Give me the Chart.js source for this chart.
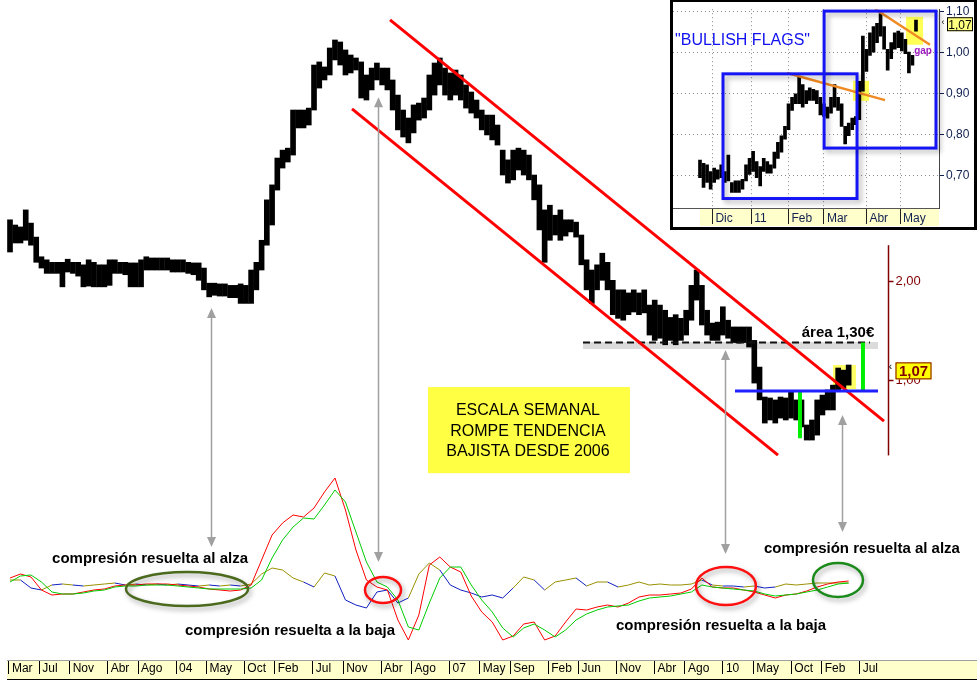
<!DOCTYPE html>
<html><head><meta charset="utf-8">
<script src="https://cdn.jsdelivr.net/npm/chart.js@4.4.0/dist/chart.umd.min.js"></script>
<style>
html,body{margin:0;padding:0;background:#fff;}
#wrap{position:relative;width:977px;height:680px;overflow:hidden;background:#fff;}
#main{position:absolute;left:0;top:0;}
#inset{position:absolute;left:670px;top:0;background:#fff;}
</style></head><body>
<div id="wrap"><canvas id="main" width="977" height="680"></canvas><canvas id="inset" width="307" height="230"></canvas></div>
<script>
// ---------------- DATA ----------------
// weekly price bars, sampled every 3 weeks (years as x)
const priceStart = 2002.179;
const priceStep = 0.0575;
const priceHigh = [3.07,2.96,2.92,3.29,3.00,2.72,2.37,2.32,2.28,2.28,
2.28,2.33,2.28,2.28,2.24,2.32,2.28,2.24,2.24,2.32,
2.32,2.28,2.28,2.27,2.27,2.32,2.37,2.35,2.35,2.35,
2.35,2.32,2.32,2.32,2.28,2.27,2.27,2.19,1.97,1.97,
1.96,1.96,1.94,1.94,1.96,1.94,2.16,2.28,2.66,3.53,
3.92,4.73,5.00,5.07,6.62,6.62,6.62,6.71,9.07,9.27,
8.95,10.22,10.81,10.66,10.08,9.73,9.53,9.27,8.46,8.88,
9.20,8.88,8.88,8.17,7.35,6.62,6.26,6.86,6.95,7.20,
8.46,9.20,9.53,8.88,8.58,8.76,8.46,7.89,7.51,7.10,
6.62,6.39,6.39,5.96,5.00,4.67,5.00,5.07,5.00,4.83,
4.20,3.92,3.29,3.40,3.17,3.29,3.07,3.07,3.02,2.76,
2.32,2.16,2.24,2.43,2.28,2.01,1.88,1.88,1.84,1.88,
1.84,1.88,1.69,1.75,1.69,1.63,1.55,1.58,1.54,1.63,
1.94,2.16,1.94,1.63,1.49,1.50,1.67,1.52,1.45,1.45,
1.45,1.45,1.32,1.095,0.888,0.882,0.870,0.888,0.882,0.919,
0.870,0.870,0.730,0.756,0.870,0.900,0.933,0.965,1.088,1.072,
1.111];
const priceLow = [2.45,2.61,2.61,2.66,2.57,2.28,2.19,2.11,2.11,2.11,
1.92,2.13,2.11,2.07,1.92,1.93,1.92,1.92,1.92,1.94,
2.11,2.11,2.09,1.92,1.92,1.92,2.16,2.16,2.16,2.16,
2.16,2.13,2.13,2.13,2.11,2.09,2.01,1.88,1.79,1.81,
1.80,1.80,1.78,1.78,1.71,1.71,1.71,1.88,2.16,2.57,
2.96,3.78,4.41,4.60,4.83,5.84,5.84,5.96,6.62,7.72,
8.17,8.46,9.40,9.07,8.46,8.58,8.76,7.20,7.10,7.62,
8.17,7.89,7.62,6.62,5.76,5.48,5.26,5.64,6.17,6.26,
6.62,7.35,7.89,7.35,7.10,7.35,7.10,6.71,6.48,6.26,
5.76,5.56,5.37,5.18,4.20,3.97,4.06,4.35,4.20,4.06,
3.53,2.86,2.28,2.66,2.76,2.66,2.74,2.82,2.72,2.24,
1.88,1.71,1.88,2.01,1.88,1.58,1.54,1.52,1.58,1.61,
1.58,1.60,1.37,1.32,1.34,1.28,1.32,1.28,1.32,1.37,
1.52,1.75,1.47,1.37,1.32,1.32,1.37,1.34,1.30,1.295,
1.30,1.26,0.979,0.870,0.740,0.756,0.740,0.766,0.756,0.766,
0.756,0.720,0.657,0.657,0.680,0.783,0.811,0.811,0.933,0.946,
0.965];

// oscillator panel, sampled every 6 weeks
const indStart = 2002.179;
const indStep = 0.115;
const fastLine = [0.7,1.1,0.8,-0.5,-1.0,-0.9,-0.9,-0.7,-0.5,-0.4,
-0.1,0,0,0.1,0.1,0.1,0,-0.1,-0.2,-0.4,
-0.5,-0.6,-0.5,0,2.5,5.0,6.2,7.0,6.8,7.7,
9.3,10.7,7.5,3.5,0.5,-0.2,-0.5,-3.5,-5.5,-3.0,
2.0,2.8,1.8,1.3,-1.1,-2.7,-3.7,-5.5,-5.1,-3.9,
-3.7,-5.5,-5.1,-3.7,-2.4,-2.5,-2.2,-2.0,-2.2,-1.8,
-1.2,-1.0,-1.0,-0.9,-0.8,-0.4,0.7,-0.2,-0.3,-0.3,
-0.5,-0.7,-1.0,-1.3,-1.0,-0.9,-0.6,-0.2,0.1,0.3,0.4];
const slowLine = [0.3,0.9,1.0,0.3,-0.7,-0.9,-0.9,-0.8,-0.6,-0.5,
-0.2,-0.1,-0.1,0,0,0,-0.1,-0.2,-0.3,-0.4,
-0.4,-0.4,-0.4,-0.3,0.5,2.7,4.5,5.8,6.7,6.6,
8.0,9.5,8.3,5.3,2.3,0.3,-0.2,-1.5,-4.2,-4.5,
-1.8,0.7,1.8,1.8,0,-1.5,-2.7,-4.3,-5.2,-4.3,
-3.9,-4.5,-5.2,-4.5,-3.5,-2.9,-2.5,-2.2,-2.1,-2.0,
-1.6,-1.3,-1.2,-1.1,-0.9,-0.7,0,-0.2,-0.3,-0.4,
-0.5,-0.6,-0.9,-1.1,-1.0,-0.9,-0.7,-0.5,-0.2,0.1,0.2];
const trendLine = [0.5,0.5,-0.3,-0.5,0,0.1,0,-0.1,0,0.1,
0.2,0,0.1,0,0.1,0,0.1,0,-0.1,0,
-0.1,0,-0.1,0.1,1.1,1.7,1.5,0.7,0.3,-0.2,
1.2,0.9,-1.5,-2.0,-2.3,-0.7,-0.5,-1.8,-1.3,1.1,
2.2,1.5,0,-0.5,-0.8,-1.2,-1.0,-1.3,-0.3,0.8,
0.5,-0.5,0.3,0.5,0.7,-0.1,0.3,0.3,-0.2,0,
0.3,0,0.1,0,0,0.1,0.5,0,-0.1,-0.1,
-0.2,-0.1,-0.3,-0.2,0.1,0,0.1,0.2,0.2,0.2,0.2];
const trendState = [0,0,1,1,0,1,0,1,0,0,
0,1,0,1,0,1,0,1,1,0,
1,0,1,0,0,0,0,0,0,1,
0,0,1,1,1,1,1,1,1,0,
0,0,1,1,1,1,1,1,1,0,
0,1,0,0,0,1,0,0,1,0,
0,0,0,0,0,0,0,1,0,1,
1,0,1,1,0,0,0,0,0,0,0];

// main x axis ticks
const xTickMonths = ['2002-03','2002-07','2002-11','2003-04','2003-08','2004-01','2004-05','2004-10','2005-02','2005-07','2005-11','2006-04','2006-08','2007-01','2007-05','2007-09','2008-02','2008-06','2008-11','2009-04','2009-08','2010-01','2010-05','2010-10','2011-02','2011-07'];
const xTickLabels = ['Mar','Jul','Nov','Abr','Ago','04','May','Oct','Feb','Jul','Nov','Abr','Ago','07','May','Sep','Feb','Jun','Nov','Abr','Ago','10','May','Oct','Feb','Jul'];
const priceAxisTicks = [2.00, 1.00];
const lastPrice = 1.07;

// drawn trend annotations (data units)
const channelUpper = [[2006.348, 12.44], [2011.767, 0.750]];
const channelLower = [[2005.931, 6.67], [2010.604, 0.591]];
const resistance130 = [[2008.465, 1.30], [2011.613, 1.30]];
const neckline = [[2010.132, 0.926], [2011.701, 0.926]];
const targetLeg1 = [[2010.845, 0.926], [2010.845, 0.665]];
const targetLeg2 = [[2011.536, 1.30], [2011.536, 0.933]];

// inset: daily bars, every 2nd session from 22-nov-2010
const insetStep = 2;
const insetHigh = [0.739,0.731,0.727,0.711,0.719,0.715,0.727,0.711,0.751,0.684,
0.688,0.688,0.692,0.727,0.743,0.760,0.735,0.723,0.743,0.735,
0.727,0.758,0.782,0.798,0.821,0.876,0.892,0.900,0.943,0.923,
0.908,0.915,0.911,0.908,0.892,0.876,0.868,0.892,0.923,0.892,
0.876,0.821,0.829,0.841,0.845,0.931,1.041,1.009,1.049,1.064,
1.072,1.096,1.064,1.009,1.025,1.049,1.053,1.049,1.033,1.002,
0.994,1.080];
const insetLow = [0.696,0.672,0.684,0.668,0.684,0.692,0.696,0.684,0.688,0.660,
0.660,0.660,0.668,0.688,0.704,0.711,0.696,0.676,0.711,0.707,
0.707,0.719,0.743,0.758,0.790,0.813,0.860,0.876,0.876,0.868,
0.876,0.884,0.884,0.876,0.849,0.845,0.841,0.853,0.868,0.860,
0.821,0.778,0.798,0.813,0.825,0.837,0.907,0.955,0.994,1.002,
1.025,1.041,1.009,0.958,0.986,1.009,1.013,1.005,0.998,0.951,
0.970,1.053];
const insetTickDays = [7, 29, 50, 70, 94, 113];
const insetTickLabels = ['Dic','11','Feb','Mar','Abr','May'];
const insetPriceTicks = [0.70, 0.80, 0.90, 1.00, 1.10];
const flagLine1 = [[49.2, 0.951], [104.5, 0.885]];
const flagLine2 = [[98.9, 1.107], [129.9, 1.020]];

// ---------------- CHART ----------------
const FONT = '"Liberation Sans", Arial, sans-serif';
Chart.defaults.font.family = FONT;
const fmt = v => v.toFixed(2).replace('.', ',');
const pts = arr => arr.map(p => ({x: p[0], y: p[1]}));

const notes = {
  box: {x0: 2006.764, x1: 2008.980, top: 0.952, bottom: 0.521, cx: 2007.861,
        lines: ['ESCALA SEMANAL', 'ROMPE TENDENCIA', 'BAJISTA DESDE 2006'], lineP: [0.805, 0.697, 0.608]},
  highlight: {x0: 2011.207, x1: 2011.459, top: 1.111, bottom: 0.939},
  area: {text: 'área 1,30€', x: 2011.262, p: 1.390},
  arrows: [
    {x: 2004.384, top: 1.655, bottom: 3.8},
    {x: 2006.216, top: 7.24, bottom: 2.3},
    {x: 2010.022, top: 1.234, bottom: 3.1},
    {x: 2011.306, top: 0.783, bottom: 5.3}
  ],
  ellipses: [
    {x: 2004.121, v: -0.4, rx: 61, ry: 17, color: '#4B6A1E'},
    {x: 2006.271, v: -0.5, rx: 18, ry: 13, color: '#FF1010'},
    {x: 2010.033, v: -0.1, rx: 30, ry: 19, color: '#FF1010'},
    {x: 2011.262, v: 0.5, rx: 25, ry: 17, color: '#1A8A1A'}
  ],
  texts: [
    {text: 'compresión resuelta al alza', x: 2003.715, v: 2.6},
    {text: 'compresión resuelta a la baja', x: 2005.251, v: -4.6},
    {text: 'compresión resuelta a la baja', x: 2009.979, v: -4.1},
    {text: 'compresión resuelta al alza', x: 2011.525, v: 3.6}
  ],
  axis: {x: 2011.810, top: 2.57, bottom: 0.59}
};

const mainDecor = {
  id: 'mainDecor',
  beforeDraw(chart) {
    const {ctx} = chart; const xs = chart.scales.x;
    ctx.save();
    ctx.fillStyle = '#FFFFCC';
    ctx.fillRect(xs.left, xs.top, xs.right - xs.left, xs.bottom - xs.top);
    ctx.strokeStyle = '#000'; ctx.lineWidth = 1;
    ctx.beginPath(); ctx.moveTo(xs.left, xs.bottom - 0.5); ctx.lineTo(xs.right, xs.bottom - 0.5); ctx.stroke();
    ctx.restore();
  },
  beforeDatasetsDraw(chart) {
    const {ctx, scales} = chart;
    const X = v => scales.x.getPixelForValue(v), P = v => scales.y.getPixelForValue(v);
    ctx.save();
    const h = notes.highlight;
    ctx.fillStyle = '#FFFF66';
    ctx.fillRect(X(h.x0), P(h.top), X(h.x1) - X(h.x0), P(h.bottom) - P(h.top));
    ctx.strokeStyle = 'rgba(190,190,190,0.55)'; ctx.lineWidth = 7;
    ctx.beginPath();
    ctx.moveTo(X(resistance130[0][0]), P(1.30) + 3); ctx.lineTo(X(resistance130[1][0]) + 8, P(1.30) + 3); ctx.stroke();
    ctx.restore();
  },
  afterDatasetsDraw(chart) {
    const {ctx, scales} = chart;
    const X = v => scales.x.getPixelForValue(v), P = v => scales.y.getPixelForValue(v), I = v => scales.yi.getPixelForValue(v);
    ctx.save();
    const b = notes.box;
    ctx.fillStyle = '#FFFF44';
    ctx.fillRect(X(b.x0), P(b.top), X(b.x1) - X(b.x0), P(b.bottom) - P(b.top));
    ctx.fillStyle = '#000'; ctx.font = '16px ' + FONT; ctx.textAlign = 'center'; ctx.textBaseline = 'middle';
    b.lines.forEach((t, k) => ctx.fillText(t, X(b.cx), P(b.lineP[k])));
    ctx.strokeStyle = '#A0A0A0'; ctx.fillStyle = '#A0A0A0'; ctx.lineWidth = 1.5;
    notes.arrows.forEach(a => {
      const x = Math.round(X(a.x)) + 0.5, y1 = P(a.top), y2 = I(a.bottom);
      ctx.beginPath(); ctx.moveTo(x, y1 + 8); ctx.lineTo(x, y2 - 8); ctx.stroke();
      ctx.beginPath(); ctx.moveTo(x, y1); ctx.lineTo(x - 4.5, y1 + 10); ctx.lineTo(x + 4.5, y1 + 10); ctx.closePath(); ctx.fill();
      ctx.beginPath(); ctx.moveTo(x, y2); ctx.lineTo(x - 4.5, y2 - 10); ctx.lineTo(x + 4.5, y2 - 10); ctx.closePath(); ctx.fill();
    });
    notes.ellipses.forEach(e => {
      ctx.save();
      ctx.shadowColor = 'rgba(0,0,0,0.35)'; ctx.shadowBlur = 5; ctx.shadowOffsetX = 2; ctx.shadowOffsetY = 3;
      ctx.strokeStyle = e.color; ctx.lineWidth = 2.5;
      ctx.beginPath(); ctx.ellipse(X(e.x), I(e.v), e.rx, e.ry, 0, 0, Math.PI * 2); ctx.stroke();
      ctx.restore();
    });
    ctx.fillStyle = '#000'; ctx.font = 'bold 15px ' + FONT; ctx.textAlign = 'center'; ctx.textBaseline = 'middle';
    notes.texts.forEach(t => ctx.fillText(t.text, X(t.x), I(t.v)));
    ctx.fillText(notes.area.text, X(notes.area.x), P(notes.area.p));
    const ax = Math.round(X(notes.axis.x)) + 0.5;
    ctx.strokeStyle = '#800000'; ctx.lineWidth = 1.5;
    ctx.beginPath(); ctx.moveTo(ax, P(notes.axis.top)); ctx.lineTo(ax, P(notes.axis.bottom)); ctx.stroke();
    ctx.fillStyle = '#800000'; ctx.font = '13px ' + FONT; ctx.textAlign = 'left';
    priceAxisTicks.forEach(v => {
      const y = Math.round(P(v)) + 0.5;
      ctx.beginPath(); ctx.moveTo(ax, y); ctx.lineTo(ax + 5, y); ctx.stroke();
      ctx.fillText(fmt(v), ax + 7, y);
    });
    const ly = P(lastPrice);
    ctx.fillStyle = '#FFFF00'; ctx.fillRect(ax + 7, ly - 8, 36, 17);
    ctx.strokeStyle = '#800000'; ctx.lineWidth = 1; ctx.strokeRect(ax + 7.5, ly - 7.5, 35, 16);
    ctx.fillStyle = '#800000'; ctx.font = 'bold 15px ' + FONT; ctx.textAlign = 'center';
    ctx.fillText(fmt(lastPrice), ax + 25, ly + 1);
    ctx.font = '10px ' + FONT; ctx.fillStyle = '#000'; ctx.fillText('‹', ax + 2, ly - 3);
    ctx.restore();
  }
};

const lineDs = (arr, color, width, extra) => Object.assign({
  type: 'line', data: pts(arr), borderColor: color, borderWidth: width, pointRadius: 0,
  yAxisID: 'y', order: 1, tension: 0
}, extra || {});

new Chart(document.getElementById('main'), {
  type: 'bar',
  data: {
    datasets: [
      {type: 'bar', data: priceHigh.map((h, i) => ({x: priceStart + i * priceStep, y: [priceLow[i], h]})),
       backgroundColor: '#000', barThickness: 5, grouped: false, yAxisID: 'y', order: 10},
      {type: 'line', data: trendLine.map((v, i) => ({x: indStart + i * indStep, y: v})), yAxisID: 'yi',
       borderColor: '#9A9000', borderWidth: 1, pointRadius: 0, order: 5,
       segment: {borderColor: c => trendState[c.p1DataIndex] ? '#1020C0' : '#9A9000'}},
      {type: 'line', data: fastLine.map((v, i) => ({x: indStart + i * indStep, y: v})), yAxisID: 'yi',
       borderColor: '#FF0000', borderWidth: 1, pointRadius: 0, order: 4},
      {type: 'line', data: slowLine.map((v, i) => ({x: indStart + i * indStep, y: v})), yAxisID: 'yi',
       borderColor: '#00CC00', borderWidth: 1, pointRadius: 0, order: 3},
      lineDs(resistance130, '#111', 2, {borderDash: [7, 4], order: 2}),
      lineDs(neckline, '#2020FF', 3),
      lineDs(targetLeg1, '#00EE00', 4),
      lineDs(targetLeg2, '#00EE00', 4),
      lineDs(channelUpper, '#FF0000', 3),
      lineDs(channelLower, '#FF0000', 3)
    ]
  },
  options: {
    responsive: false, animation: false, events: [],
    layout: {padding: {left: 7, right: 0, top: 0, bottom: 0}},
    plugins: {legend: {display: false}, tooltip: {enabled: false}},
    scales: {
      x: {type: 'linear', min: 2002.146, max: 2012.787, offset: false, position: 'bottom',
        afterBuildTicks: s => { s.ticks = xTickMonths.map(m => ({value: +m.slice(0, 4) + (+m.slice(5) - 1) / 12})); },
        afterFit: s => { s.height = 20; },
        grid: {drawOnChartArea: false, offset: false, drawTicks: true, tickLength: 14, tickColor: '#000', tickWidth: 1},
        border: {display: true, color: '#A0A0A0', width: 1},
        ticks: {align: 'start', labelOffset: 3, padding: -13, autoSkip: false, maxRotation: 0, minRotation: 0,
          color: '#000', font: {size: 12, family: FONT}, callback: (v, i) => xTickLabels[i]}
      },
      y: {type: 'logarithmic', display: false, min: 0.1409, max: 14.30, bounds: 'data'},
      yi: {type: 'linear', display: false, min: -7.5, max: 58.5, bounds: 'data'}
    }
  },
  plugins: [mainDecor]
});

// ---------------- INSET ----------------
const insetNotes = {
  boxes: [{x0: 13.0, x1: 88.7, top: 0.949, bottom: 0.645}, {x0: 70.1, x1: 133.3, top: 1.102, bottom: 0.768}],
  highlights: [{x0: 86.4, x1: 95.5, top: 0.932, bottom: 0.883}, {x0: 116.4, x1: 126.0, top: 1.088, bottom: 1.020}],
  title: {text: '"BULLISH FLAGS"', x: -14.1, p: 1.031},
  gap: {text: 'gap', x: 126.0, p: 1.005}
};
const insetDecor = {
  id: 'insetDecor',
  beforeDraw(chart) {
    const {ctx, scales} = chart; const xs = scales.x;
    ctx.save();
    ctx.fillStyle = '#FFFFCC';
    const x0 = xs.getPixelForValue(0);
    ctx.fillRect(x0, xs.top, chart.chartArea.right - x0, 18);
    ctx.restore();
  },
  beforeDatasetsDraw(chart) {
    const {ctx, scales} = chart;
    const X = v => scales.x.getPixelForValue(v), P = v => scales.y.getPixelForValue(v);
    ctx.save();
    ctx.fillStyle = '#FFFF55';
    insetNotes.highlights.forEach(h => ctx.fillRect(X(h.x0), P(h.top), X(h.x1) - X(h.x0), P(h.bottom) - P(h.top)));
    ctx.restore();
  },
  afterDatasetsDraw(chart) {
    const {ctx, scales} = chart;
    const X = v => scales.x.getPixelForValue(v), P = v => scales.y.getPixelForValue(v);
    ctx.save();
    insetNotes.boxes.forEach(b => {
      ctx.save();
      ctx.shadowColor = 'rgba(0,0,0,0.3)'; ctx.shadowBlur = 5; ctx.shadowOffsetX = 3; ctx.shadowOffsetY = 3;
      ctx.strokeStyle = '#1414F5'; ctx.lineWidth = 3;
      ctx.strokeRect(X(b.x0), P(b.top), X(b.x1) - X(b.x0), P(b.bottom) - P(b.top));
      ctx.restore();
    });
    ctx.fillStyle = '#1010F0'; ctx.font = '16px ' + FONT; ctx.textAlign = 'left'; ctx.textBaseline = 'middle';
    ctx.fillText(insetNotes.title.text, X(insetNotes.title.x), P(insetNotes.title.p));
    ctx.fillStyle = '#A020C0'; ctx.font = 'bold 10px ' + FONT; ctx.textAlign = 'center';
    ctx.fillText(insetNotes.gap.text, X(insetNotes.gap.x), P(insetNotes.gap.p));
    const ax = chart.chartArea.right; const ly = P(lastPrice);
    ctx.fillStyle = '#FFFF80'; ctx.fillRect(ax + 8, ly - 7, 26, 14);
    ctx.strokeStyle = '#000'; ctx.lineWidth = 1; ctx.strokeRect(ax + 8.5, ly - 6.5, 25, 13);
    ctx.fillStyle = '#000'; ctx.font = '12px ' + FONT; ctx.textAlign = 'center';
    ctx.fillText(fmt(lastPrice), ax + 21, ly + 1);
    ctx.font = '9px ' + FONT; ctx.fillText('‹', ax + 4, ly - 2);
    ctx.restore();
  },
  afterDraw(chart) {
    const {ctx, width, height} = chart;
    ctx.save();
    ctx.strokeStyle = '#000'; ctx.lineWidth = 3;
    ctx.strokeRect(1.5, 0.5, width - 3, height - 2);
    ctx.restore();
  }
};

new Chart(document.getElementById('inset'), {
  type: 'bar',
  data: {
    datasets: [
      {type: 'bar', data: insetHigh.map((h, i) => ({x: i * insetStep, y: [insetLow[i], h]})),
       backgroundColor: '#000', barThickness: 3, grouped: false, order: 10},
      {type: 'line', data: pts(flagLine1), borderColor: '#F08A24', borderWidth: 2.5, pointRadius: 0, order: 1},
      {type: 'line', data: pts(flagLine2), borderColor: '#F08A24', borderWidth: 2.5, pointRadius: 0, order: 1}
    ]
  },
  options: {
    responsive: false, animation: false, events: [],
    layout: {padding: {left: 3, top: 2, right: 0, bottom: 0}},
    plugins: {legend: {display: false}, tooltip: {enabled: false}},
    scales: {
      x: {type: 'linear', min: -15.25, max: 135, offset: false,
        afterBuildTicks: s => { s.ticks = insetTickDays.map(v => ({value: v})); },
        afterFit: s => { s.height = 22; },
        grid: {drawOnChartArea: true, offset: false, color: '#8a8a8a', tickColor: '#222', tickLength: 16, tickBorderDash: []},
        border: {display: true, color: '#555', dash: [1, 3]},
        ticks: {align: 'start', labelOffset: 3, padding: -13, autoSkip: false, maxRotation: 0, minRotation: 0,
          color: '#102050', font: {size: 12, family: FONT}, callback: (v, i) => insetTickLabels[i]}
      },
      y: {type: 'linear', position: 'right', min: 0.6219, max: 1.1066, bounds: 'data',
        afterBuildTicks: s => { s.ticks = insetPriceTicks.map(v => ({value: v})); },
        afterFit: s => { s.width = 38; },
        grid: {color: '#8a8a8a', tickColor: '#102050', tickLength: 5, tickBorderDash: []},
        border: {display: true, color: '#444', dash: [1, 3]},
        ticks: {padding: 2, color: '#102050', font: {size: 12, family: FONT}, callback: v => fmt(v)}
      }
    }
  },
  plugins: [insetDecor]
});
</script>
</body></html>
